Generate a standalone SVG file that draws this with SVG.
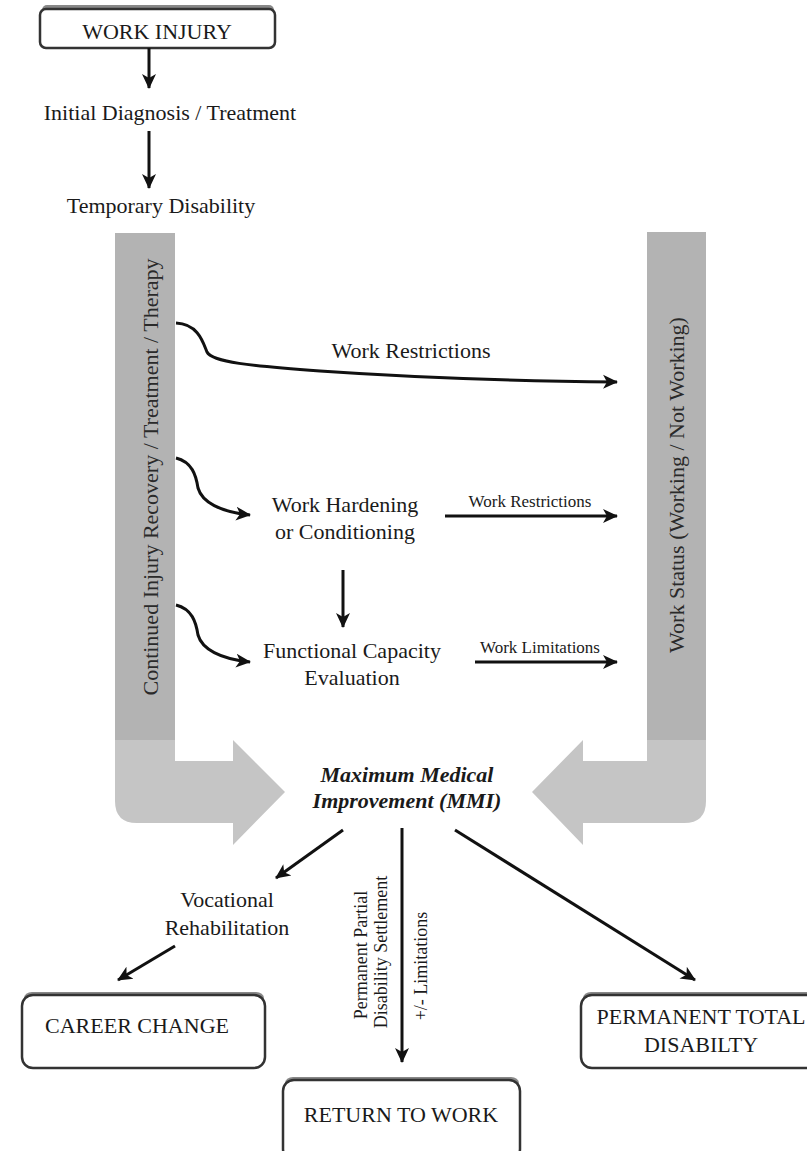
<svg xmlns="http://www.w3.org/2000/svg" width="807" height="1151" viewBox="0 0 807 1151">
<style>
text{font-family:"Liberation Serif","Times New Roman",serif;fill:#1a1a1a;font-size:22px}
.m{text-anchor:middle}
.sm{font-size:17px}
.rot{font-size:18px}
.mmi{font-weight:bold;font-style:italic}
.box{fill:#fff;stroke:#333;stroke-width:2.5}
.shadow{fill:#888}
.ln{fill:none;stroke:#111;stroke-width:3}
.barD{fill:#b3b3b3}
.barL{fill:#c5c5c5}
.bt{fill:#2a2a2a}
</style>
<defs>
<marker id="ah" markerUnits="userSpaceOnUse" markerWidth="16" markerHeight="16" refX="14" refY="8" orient="auto">
<path d="M0,1 L15,8 L0,15 L4,8 Z" fill="#111"/>
</marker>
</defs>

<g id="bar-left">
<path class="barL" d="M115,233 H175 V761 H233 V740 L285,792 L233,845 V823 H137 Q115,823 115,801 Z"/>
<rect class="barD" x="115" y="233" width="60" height="507"/>
<text class="m bt" transform="translate(158,477) rotate(-90)">Continued Injury Recovery / Treatment / Therapy</text>
</g>

<g id="bar-right">
<path class="barL" d="M647,232 H706 V801 Q706,823 684,823 H583 V845 L532,792 L583,740 V761 H647 Z"/>
<rect class="barD" x="647" y="232" width="59" height="508"/>
<text class="m bt" transform="translate(684,485) rotate(-90)">Work Status (Working / Not Working)</text>
</g>

<g id="work-injury">
<rect class="shadow" x="42" y="5" width="232" height="12" rx="5"/>
<rect class="box" x="40" y="9" width="235" height="39" rx="6"/>
<text class="m" x="157" y="39">WORK INJURY</text>
</g>

<g id="initial-diagnosis">
<text class="m" x="170" y="120">Initial Diagnosis / Treatment</text>
</g>

<g id="temporary-disability">
<text class="m" x="161" y="213">Temporary Disability</text>
</g>

<g id="work-hardening">
<text class="m" x="345" y="512">Work Hardening</text>
<text class="m" x="345" y="539">or Conditioning</text>
</g>

<g id="fce">
<text class="m" x="352" y="658">Functional Capacity</text>
<text class="m" x="352" y="685">Evaluation</text>
</g>

<g id="mmi">
<text class="m mmi" x="407" y="782">Maximum Medical</text>
<text class="m mmi" x="407" y="808">Improvement (MMI)</text>
</g>

<g id="vocational-rehab">
<text class="m" x="227" y="907">Vocational</text>
<text class="m" x="227" y="935">Rehabilitation</text>
</g>

<g id="career-change">
<rect class="shadow" x="24" y="992" width="240" height="12" rx="8"/>
<rect class="box" x="22" y="995" width="243" height="73" rx="11"/>
<text class="m" x="137" y="1033">CAREER CHANGE</text>
</g>

<g id="return-to-work">
<rect class="shadow" x="285" y="1077" width="234" height="12" rx="8"/>
<rect class="box" x="283" y="1080" width="237" height="80" rx="11"/>
<text class="m" x="401" y="1122">RETURN TO WORK</text>
</g>

<g id="permanent-total">
<rect class="shadow" x="583" y="992" width="240" height="12" rx="8"/>
<rect class="box" x="581" y="995" width="240" height="73" rx="11"/>
<text class="m" x="701" y="1024">PERMANENT TOTAL</text>
<text class="m" x="701" y="1052">DISABILTY</text>
</g>

<g id="connectors">
<line class="ln" x1="149" y1="48" x2="149" y2="88" marker-end="url(#ah)"/>
<line class="ln" x1="149" y1="131" x2="149" y2="188" marker-end="url(#ah)"/>
<path class="ln" d="M176,323 C198,324 203,342 207,352 C212,362 250,366 320,371 C420,378 520,381 617,382" marker-end="url(#ah)"/>
<text class="m" x="411" y="358">Work Restrictions</text>
<path class="ln" d="M176,458 C192,462 196,475 198,488 C202,502 220,512 250,515" marker-end="url(#ah)"/>
<path class="ln" d="M176,605 C192,609 196,622 198,635 C202,649 220,659 250,662" marker-end="url(#ah)"/>
<line class="ln" x1="445" y1="516" x2="617" y2="516" marker-end="url(#ah)"/>
<text class="m sm" x="530" y="507">Work Restrictions</text>
<line class="ln" x1="343" y1="570" x2="343" y2="627" marker-end="url(#ah)"/>
<line class="ln" x1="475" y1="662" x2="617" y2="662" marker-end="url(#ah)"/>
<text class="m sm" x="540" y="653">Work Limitations</text>
<line class="ln" x1="343" y1="830" x2="276" y2="878" marker-end="url(#ah)"/>
<line class="ln" x1="402" y1="828" x2="402" y2="1062" marker-end="url(#ah)"/>
<line class="ln" x1="455" y1="830" x2="695" y2="980" marker-end="url(#ah)"/>
<line class="ln" x1="175" y1="946" x2="118" y2="980" marker-end="url(#ah)"/>
<text class="m rot" transform="translate(367,955) rotate(-90)">Permanent Partial</text>
<text class="m rot" transform="translate(387,952) rotate(-90)">Disability Settlement</text>
<text class="m rot" transform="translate(427,966) rotate(-90)">+/- Limitations</text>
</g>
</svg>
